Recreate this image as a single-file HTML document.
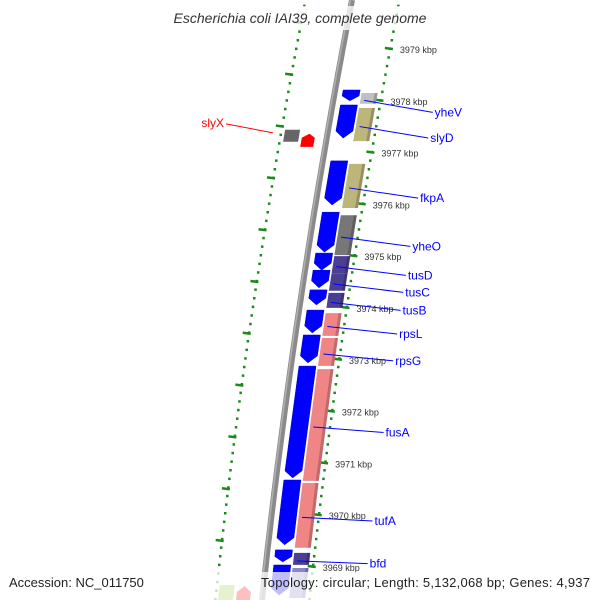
<!DOCTYPE html>
<html><head><meta charset="utf-8"><style>
html,body{margin:0;padding:0;background:#fff;}
svg{display:block;font-family:"Liberation Sans",sans-serif;}
</style></head><body>
<svg id="map" width="600" height="600" viewBox="0 0 600 600" xmlns="http://www.w3.org/2000/svg">
<rect width="600" height="600" fill="#fff"/>
<g id="layer"></g>
<rect x="150" y="6" width="300" height="24" fill="#fff" fill-opacity="0.75"/>
<text x="300" y="23" text-anchor="middle" font-size="14" font-style="italic" fill="#333">Escherichia coli IAI39, complete genome</text>
<rect x="0" y="572" width="600" height="28" fill="#fff" fill-opacity="0.75"/>
<text x="9" y="587" font-size="13" fill="#222">Accession: NC_011750</text>
<text x="261" y="587" font-size="13" fill="#222" textLength="329">Topology: circular; Length: 5,132,068 bp; Genes: 4,937</text>
</svg>
<script>
// data
const geneNames = ["yheV","slyD","fkpA","yheO","tusD","tusC","tusB","rpsL","rpsG","fusA","tufA","bfd","next"];
const geneStart = [3978.19,3977.90,3976.82,3975.83,3975.04,3974.71,3974.33,3973.94,3973.46,3972.86,3970.66,3969.31,3969.02];
const geneEnd   = [3977.98,3977.26,3975.97,3975.06,3974.71,3974.37,3974.04,3973.50,3972.92,3970.70,3969.41,3969.08,3968.44];
const geneBoxColor = ["#c0c0c0","#bdb67a","#bdb67a","#777777","#4b3f93","#4b3f93","#4b3f93","#f08585","#f08585","#f08585","#f08585","#4b3f93","#8888c8"];
const geneLabeled = [1,1,1,1,1,1,1,1,1,1,1,1,0];
const leftNames = ["slyX"];
const leftStart = [3977.42];
const leftEnd = [3977.09];
const kbpTicks = [3979,3978,3977,3976,3975,3974,3973,3972,3971,3970,3969];

const NS="http://www.w3.org/2000/svg";
const layer=document.getElementById('layer');
function yOf(k){return 48+(3979-k)*51.8;}
function B(y){return 352-0.193*y+7.17e-5*y*y;}
function mk(tag,attrs,parent){const e=document.createElementNS(NS,tag);for(const a in attrs)e.setAttribute(a,attrs[a]);(parent||layer).appendChild(e);return e;}
function pts(arr){return arr.map(p=>p[0].toFixed(1)+","+p[1].toFixed(1)).join(" ");}

// dotted tracks
for(let y=-4;y<604;y+=8.6){
  let d=mk('rect',{x:B(y)-48,y:y,width:2.5,height:2.5,fill:"#1a8a1a"});
  
  
  let d2=mk('rect',{x:B(y)+46,y:y,width:2.5,height:2.5,fill:"#1a8a1a"});
  
  
}
// backbone
let bb=[];for(let y=0;y<=600;y+=10)bb.push([B(y),y]);
let bk=mk('polyline',{points:pts(bb),fill:"none",stroke:"#8a8a8a","stroke-width":6});


let bk2=mk('polyline',{points:pts(bb.map(p=>[p[0]-1.5,p[1]])),fill:"none",stroke:"#b0b0b0","stroke-width":1.5});



// kbp ticks
kbpTicks.forEach(k=>{
  const y=yOf(k);
  let t=mk('line',{x1:B(y)+42,y1:y,x2:B(y)+50,y2:y+1,stroke:"#1a8a1a","stroke-width":2.5});
  
  
  let l=mk('line',{x1:B(y-26)-53,y1:y-26,x2:B(y-26)-45,y2:y-25,stroke:"#1a8a1a","stroke-width":2.5});
  
  
  let tx=mk('text',{x:B(y)+57,y:y+5,"font-size":9,fill:"#333"});
  tx.textContent=k+" kbp";
  
  
});

function slanted(y1,y2,o1,o2,arrowDown){
  const h=y2-y1, a=arrowDown?Math.min(7,h*0.45):0;
  const p=[[B(y1)+o1,y1],[B(y1)+o2,y1],[B(y2-a)+o2,y2-a],[B(y2)+(o1+o2)/2,y2],[B(y2-a)+o1,y2-a]];
  if(!arrowDown)p.splice(3,1);
  return pts(p);
}
geneNames.forEach((n,i)=>{
  const y1=yOf(geneStart[i]),y2=yOf(geneEnd[i]);
  let g=mk('polygon',{points:slanted(y1,y2,8,25,true),fill:"#0000ff",stroke:"#0000c0","stroke-width":0.5});
  
  
  let bx=mk('polygon',{points:slanted(y1+3,y2+3,27,43,false),fill:geneBoxColor[i]});
  
  
  let sh=mk('polygon',{points:slanted(y1+3,y2+3,40,43,false),fill:"#000","fill-opacity":0.2});
  
  
  if(geneLabeled[i]){
    const ym=(y1+y2)/2, ly=ym+20-0.02*(ym-95);
    let ln=mk('line',{x1:B(ym)+30,y1:ym+5,x2:B(ly)+102,y2:ly-3,stroke:"#0000ff","stroke-width":1});
    
    
    let tx=mk('text',{x:B(ly)+104,y:ly+1,"font-size":12,fill:"#0000ff"});
    tx.textContent=n;
    
    
  }
});
leftNames.forEach((n,i)=>{
  const y1=yOf(leftStart[i]),y2=yOf(leftEnd[i]);
  let bx=mk('polygon',{points:slanted(y1,y1+12,-43,-28,false),fill:"#666"});
  
  
  const p=[[B(y2)-25,y2],[B(y2)-12,y2],[B(y1+8)-12,y1+8],[B(y1+4)-18,y1+4],[B(y1+8)-25,y1+8]];
  let ar=mk('polygon',{points:pts(p),fill:"#ff0000"});
  
  
  let ln=mk('line',{x1:226,y1:y1-6,x2:273,y2:y1+3,stroke:"#ff0000","stroke-width":1});
  
  
  let tx=mk('text',{x:224,y:y1-3,"font-size":12,fill:"#ff0000","text-anchor":"end"});
  tx.textContent=n;
  
  
});
// bottom-left partial features
let gb=mk('polygon',{points:slanted(585,605,-44,-29,false),fill:"#9ccc3c"});


let rb=mk('polygon',{points:pts([[B(600)-26,600],[B(600)-12,600],[B(592)-12,592],[B(586)-19,586],[B(592)-26,592]]),fill:"#ff0000"});


</script>
</body></html>
